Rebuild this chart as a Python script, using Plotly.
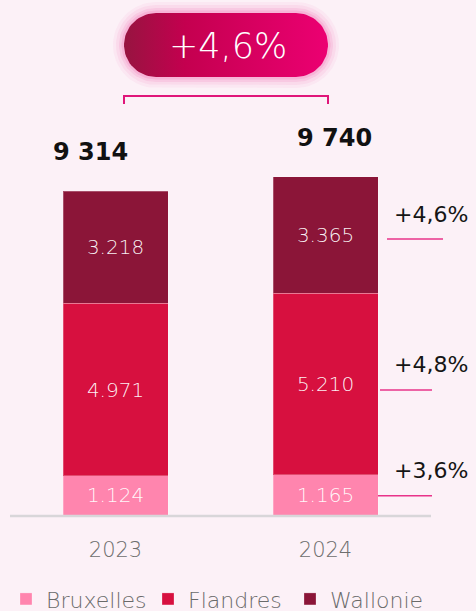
import numpy as np
import plotly.graph_objects as go

# ---------------- data ----------------
years = ["2023", "2024"]
regions = ["Bruxelles", "Flandres", "Wallonie"]
bruxelles = [1124, 1165]
flandres = [4971, 5210]
wallonie = [3218, 3365]
totals = [9314, 9740]
region_colors = ["#FF85AE", "#D7103F", "#8B1538"]

series = [bruxelles, flandres, wallonie]


def fmt_dot(v):
    return f"{v:,}".replace(",", ".")


def fmt_space(v):
    return f"{v:,}".replace(",", " ")


def pct(a, b):
    return "+" + f"{(b / a - 1) * 100:.1f}".replace(".", ",") + "%"


# ---------------- layout constants ----------------
W, H = 476, 611
BASE = 515            # pixel row of the baseline (from top)
LEGEND_Y = 600        # pixel row of the legend text centre
PX_PER_UNIT = 0.03475
YMAX = BASE / PX_PER_UNIT
YMIN = -(H - BASE) / PX_PER_UNIT
FONT = "DejaVu Sans"
xs = list(range(len(years)))

fig = go.Figure()

for name, vals, col in zip(regions, series, region_colors):
    fig.add_trace(go.Bar(
        x=xs, y=vals, name=name, width=0.5,
        marker=dict(color=col, line=dict(color="rgba(255,255,255,0.25)", width=1)),
        text=[fmt_dot(v) for v in vals],
        textposition="inside", insidetextanchor="middle", textangle=0,
        constraintext="none",
        textfont=dict(color="rgba(255,255,255,0.95)", size=20, family=FONT, weight=300),
        hoverinfo="skip",
    ))


# ---------------- badge (decoration, pixel overlay axes) ----------------
def stadium(x0, x1, y0, y1, n=40):
    r = (y1 - y0) / 2
    cy = (y0 + y1) / 2
    a1 = np.linspace(-np.pi / 2, np.pi / 2, n)
    a2 = np.linspace(np.pi / 2, 3 * np.pi / 2, n)
    px = np.concatenate([x1 - r + r * np.cos(a1), x0 + r + r * np.cos(a2)])
    py = np.concatenate([cy + r * np.sin(a1), cy + r * np.sin(a2)])
    return np.append(px, px[0]), np.append(py, py[0])


bx0, bx1, by0, by1 = 124, 328, 13, 77
for d, a in [(11, 0.05), (8, 0.07), (5, 0.10), (2.5, 0.14)]:
    gx, gy = stadium(bx0 - d, bx1 + d, by0 - d, by1 + d)
    fig.add_trace(go.Scatter(x=gx, y=gy, xaxis="x2", yaxis="y2", mode="lines",
                             line=dict(width=0), fill="toself",
                             fillcolor=f"rgba(240,60,150,{a})",
                             showlegend=False, hoverinfo="skip"))
px_, py_ = stadium(bx0, bx1, by0, by1)
fig.add_trace(go.Scatter(x=px_, y=py_, xaxis="x2", yaxis="y2", mode="lines",
                         line=dict(width=0), fill="toself",
                         fillgradient=dict(type="horizontal",
                                           colorscale=[[0, "#971440"], [0.3, "#C4004F"],
                                                       [1, "#EC0072"]]),
                         showlegend=False, hoverinfo="skip"))

annotations = []
annotations.append(dict(xref="x2", yref="y2", x=(bx0 + bx1) / 2 + 2, y=(by0 + by1) / 2 + 1,
                        text=pct(totals[0], totals[1]), showarrow=False,
                        font=dict(color="white", size=35, family=FONT, weight=300)))

shapes = []
# bracket
shapes.append(dict(type="path", xref="x2", yref="y2",
                   path=f"M{bx0},104 L{bx0},96 L{bx1},96 L{bx1},104",
                   line=dict(color="#E0167A", width=2)))
# baseline
shapes.append(dict(type="line", xref="x2", yref="y2", x0=10, x1=431, y0=BASE + 1, y1=BASE + 1,
                   line=dict(color="#D8D6D9", width=2.5), layer="above"))

# totals above bars
tot_xshift = [-25, 9]
for i, t in enumerate(totals):
    annotations.append(dict(xref="x", yref="y", x=xs[i], y=t, yshift=39, xshift=tot_xshift[i],
                            text=f"<b>{fmt_space(t)}</b>", showarrow=False,
                            font=dict(color="#111111", size=24, family=FONT)))

# growth per region (right side)
line_x = [(378, 432), (380, 432), (387, 443)]
line_shift = [-1, -6, -4]
cum = 0
last = len(years) - 1
for k, vals in enumerate(series):
    mid = cum + vals[last] / 2
    cum += vals[last]
    lx0, lx1 = line_x[k]
    shapes.append(dict(type="line", xref="x2", yref="y", ysizemode="pixel", yanchor=mid,
                       x0=lx0, x1=lx1, y0=line_shift[k], y1=line_shift[k],
                       line=dict(color="#E8338A", width=1.5)))
    annotations.append(dict(xref="x2", yref="y", x=431, y=mid, yshift=line_shift[k] + 25,
                            text=pct(vals[0], vals[last]), showarrow=False,
                            font=dict(color="#151515", size=22, family=FONT, weight=400)))

x_left = -115.5 / 210
fig.update_layout(
    width=W, height=H,
    margin=dict(l=0, r=0, t=0, b=0, pad=0),
    paper_bgcolor="#FCF1F7", plot_bgcolor="rgba(0,0,0,0)",
    barmode="stack",
    font=dict(family=FONT),
    xaxis=dict(range=[x_left, x_left + W / 210], tickvals=xs, ticktext=years,
               anchor="free", position=(H - BASE) / H,
               showgrid=False, zeroline=False, showline=False, ticks="",
               ticklabelstandoff=20,
               tickfont=dict(size=21, color="#6E6E6E", family=FONT, weight=300),
               fixedrange=True),
    yaxis=dict(range=[YMIN, YMAX], visible=False, fixedrange=True),
    xaxis2=dict(overlaying="x", range=[0, W], visible=False, anchor="y2", fixedrange=True),
    yaxis2=dict(overlaying="y", range=[H, 0], visible=False, anchor="x2", fixedrange=True),
    # legend kept fully inside the figure (so it does not push the margins) ...
    legend=dict(orientation="h", x=6 / W, xanchor="left", y=0, yanchor="bottom",
                entrywidth=97, entrywidthmode="pixels",
                font=dict(size=22, color="#6A6A6A", family=FONT, weight=300),
                bgcolor="rgba(0,0,0,0)", traceorder="normal"),
    shapes=shapes, annotations=annotations,
    showlegend=True,
)

# ... then its text row is nudged down to the reference position after drawing
post = """
document.body.style.margin = '0';
var gd = document.getElementById('{plot_id}');
var lg = gd.querySelector('g.legend');
var tx = lg ? lg.querySelector('text.legendtext') : null;
if (lg && tx) {
  var m = /translate\\(\\s*([-\\d.e]+)[ ,]+([-\\d.e]+)\\s*\\)/.exec(lg.getAttribute('transform') || '');
  if (m) {
    var r = tx.getBoundingClientRect();
    var g = gd.getBoundingClientRect();
    var dy = %d - ((r.top + r.bottom) / 2 - g.top);
    lg.setAttribute('transform', 'translate(' + m[1] + ',' + (parseFloat(m[2]) + dy) + ')');
  }
}
""" % LEGEND_Y

fig.write_html("out.html", post_script=post, config={"displayModeBar": False})
